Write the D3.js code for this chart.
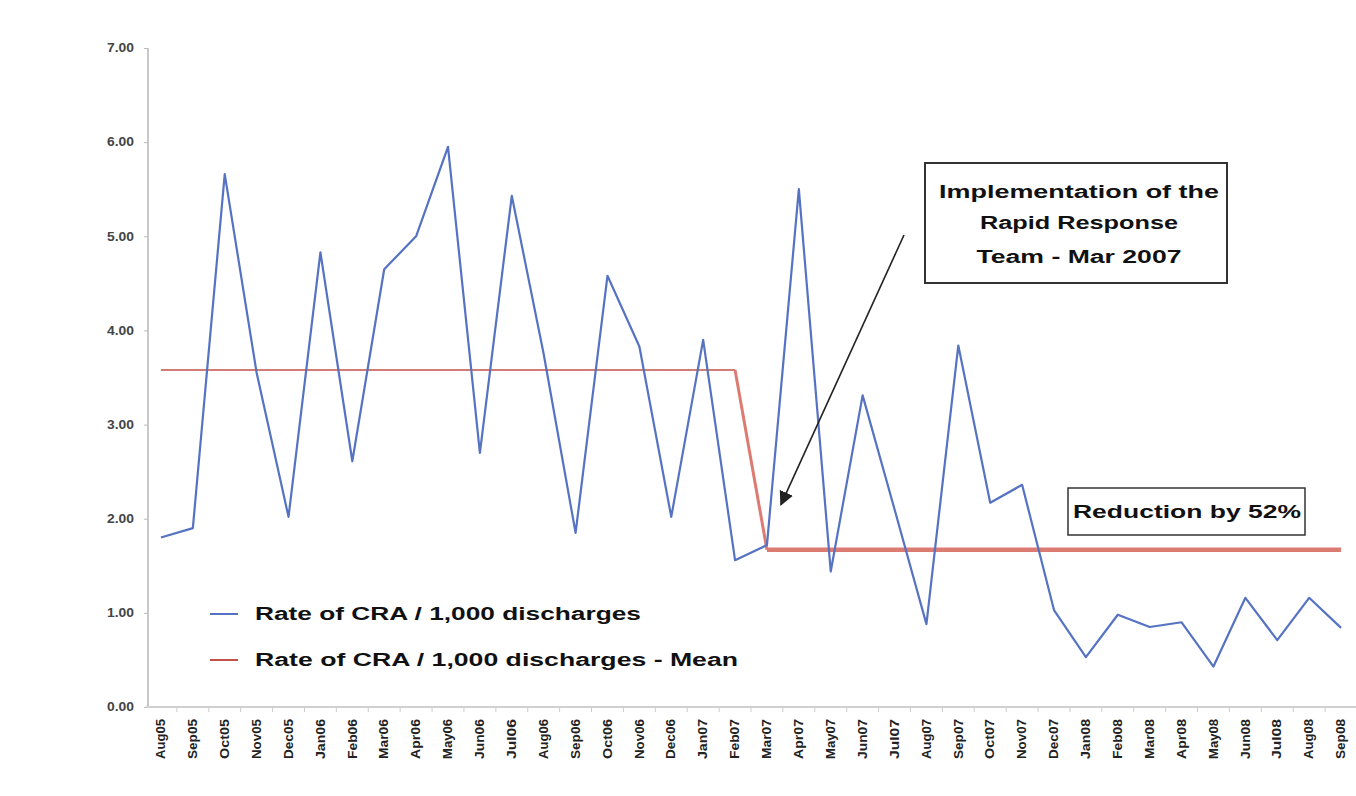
<!DOCTYPE html>
<html>
<head>
<meta charset="utf-8">
<script src="https://cdn.jsdelivr.net/npm/d3@7"></script>
<style>
  html, body { margin: 0; padding: 0; background: #fff; }
  svg { display: block; font-family: "Liberation Sans", Arial, Helvetica, sans-serif; }
</style>
</head>
<body>
<svg id="chart" width="1356" height="796"></svg>
<script>
// Monthly rate of cardiac/respiratory arrests per 1,000 discharges
const months = ["Aug05","Sep05","Oct05","Nov05","Dec05","Jan06","Feb06","Mar06","Apr06","May06",
  "Jun06","Jul06","Aug06","Sep06","Oct06","Nov06","Dec06","Jan07","Feb07","Mar07",
  "Apr07","May07","Jun07","Jul07","Aug07","Sep07","Oct07","Nov07","Dec07","Jan08",
  "Feb08","Mar08","Apr08","May08","Jun08","Jul08","Aug08","Sep08"];

const rate = [1.80,1.90,5.66,3.55,2.02,4.83,2.61,4.65,5.00,5.95,
  2.70,5.43,3.75,1.85,4.58,3.83,2.02,3.90,1.56,1.72,
  5.50,1.44,3.31,2.10,0.88,3.84,2.17,2.36,1.03,0.53,
  0.98,0.85,0.90,0.43,1.16,0.71,1.16,0.84];

// Period means: before and after the team was introduced (Mar07)
const meanBefore = 3.58;
const meanAfter = 1.67;
const changeMonth = "Mar07";
const meanRate = months.map((m, i) => i < months.indexOf(changeMonth) ? meanBefore : meanAfter);

const yTicks = [0,1,2,3,4,5,6,7];
const seriesNames = ["Rate of CRA / 1,000 discharges", "Rate of CRA / 1,000 discharges - Mean"];
const boxLines = ["Implementation of the", "Rapid Response", "Team - Mar 2007"];
const reductionText = "Reduction by 52%";

const svg = d3.select("#chart");

const x = d3.scaleBand().domain(months).range([145, 1357]).padding(0);
const cx = m => x(m) + x.bandwidth() / 2;
const y = d3.scaleLinear().domain([0, 7]).range([707, 48]);

const blue = "#5672c2";
const redDark = "#c4504a";
const redLight = "#dc7b72";

// y axis
const yAxis = d3.axisLeft(y).tickValues(yTicks).tickFormat(d3.format(".2f")).tickSize(4).tickPadding(10);
const gy = svg.append("g").attr("transform", "translate(148,0)").call(yAxis);
gy.select(".domain").attr("stroke", "#c8c8c8").attr("stroke-width", 2).attr("d", "M0,48V707");
gy.selectAll(".tick line").attr("stroke", "#bbb");
gy.selectAll(".tick text").attr("fill", "#444").attr("font-size", 12).attr("font-weight", "bold")
  .attr("textLength", 27).attr("lengthAdjust", "spacingAndGlyphs");

// x axis
const xAxis = d3.axisBottom(x).tickSize(0).tickPadding(0);
const gx = svg.append("g").attr("transform", "translate(0,707)").call(xAxis);
gx.select(".domain").attr("stroke", "#d0d0d0").attr("stroke-width", 2).attr("d", "M146,0H1356");
gx.selectAll(".tick text")
  .attr("transform", "rotate(-90)")
  .attr("text-anchor", "end")
  .attr("x", -12).attr("y", 0).attr("dy", "0.35em")
  .attr("fill", "#222").attr("font-size", 12).attr("font-weight", "bold")
  .attr("textLength", 40).attr("lengthAdjust", "spacingAndGlyphs");
// small category separators below the axis
svg.append("g").selectAll("line").data(months.slice(1)).join("line")
  .attr("x1", d => x(d)).attr("x2", d => x(d))
  .attr("y1", 708).attr("y2", 712).attr("stroke", "#ccc");

// mean line: thin before the change, heavier after
const iChange = months.indexOf(changeMonth);
const meanPath = d3.line().x(i => cx(months[i])).y(i => y(meanRate[i]));
svg.append("path")
  .attr("d", meanPath(d3.range(0, iChange)))
  .attr("fill", "none").attr("stroke", redDark).attr("stroke-width", 1.6);
svg.append("path")
  .attr("d", meanPath([iChange - 1, iChange]))
  .attr("fill", "none").attr("stroke", redLight).attr("stroke-width", 3);
svg.append("path")
  .attr("d", meanPath(d3.range(iChange, months.length)))
  .attr("fill", "none").attr("stroke", redLight).attr("stroke-width", 4.5);

// monthly rate line
svg.append("path")
  .datum(rate)
  .attr("d", d3.line().x((d, i) => cx(months[i])).y(d => y(d)))
  .attr("fill", "none").attr("stroke", blue).attr("stroke-width", 2.2)
  .attr("stroke-linejoin", "round");

// legend
const legend = svg.append("g");
const legColors = [blue, redDark];
seriesNames.forEach((name, i) => {
  const ly = 614 + i * 46;
  legend.append("line").attr("x1", 210).attr("x2", 238).attr("y1", ly).attr("y2", ly)
    .attr("stroke", legColors[i]).attr("stroke-width", 2);
  legend.append("text").attr("x", 255).attr("y", ly).attr("dy", "0.35em")
    .attr("font-size", 18).attr("font-weight", "bold").attr("fill", "#111")
    .attr("textLength", i === 0 ? 386 : 483).attr("lengthAdjust", "spacingAndGlyphs")
    .text(name);
});

// arrow marker
svg.append("defs").append("marker")
  .attr("id", "arrowhead").attr("viewBox", "0 0 10 10").attr("refX", 9).attr("refY", 5)
  .attr("markerWidth", 9).attr("markerHeight", 9).attr("orient", "auto-start-reverse")
  .append("path").attr("d", "M0,0L10,5L0,10z").attr("fill", "#222");

// annotation: implementation box with arrow to the change month
svg.append("line")
  .attr("x1", 904).attr("y1", 235)
  .attr("x2", cx(changeMonth) + 14).attr("y2", y(2.15))
  .attr("stroke", "#222").attr("stroke-width", 1.6).attr("marker-end", "url(#arrowhead)");

svg.append("rect").attr("x", 925).attr("y", 163).attr("width", 302).attr("height", 120)
  .attr("fill", "#fff").attr("stroke", "#333").attr("stroke-width", 2);
boxLines.forEach((t, i) => {
  svg.append("text").attr("x", 1079).attr("y", [192, 223, 257][i]).attr("dy", "0.35em")
    .attr("text-anchor", "middle").attr("font-size", 18).attr("font-weight", "bold").attr("fill", "#111")
    .attr("textLength", [280, 198, 205][i]).attr("lengthAdjust", "spacingAndGlyphs")
    .text(t);
});

// annotation: reduction label
svg.append("rect").attr("x", 1068).attr("y", 488).attr("width", 237).attr("height", 47)
  .attr("fill", "#fff").attr("stroke", "#333").attr("stroke-width", 1.5);
svg.append("text").attr("x", 1187).attr("y", 512).attr("dy", "0.35em")
  .attr("text-anchor", "middle").attr("font-size", 18).attr("font-weight", "bold").attr("fill", "#111")
  .attr("textLength", 228).attr("lengthAdjust", "spacingAndGlyphs")
  .text(reductionText);
</script>
</body>
</html>
